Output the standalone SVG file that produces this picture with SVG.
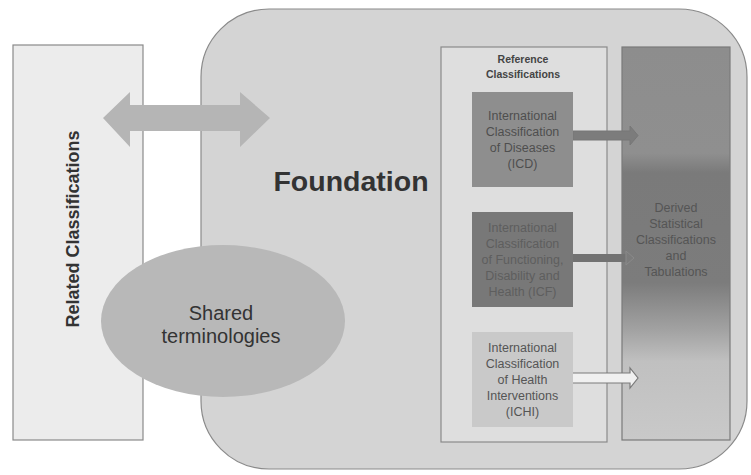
<svg xmlns="http://www.w3.org/2000/svg" width="751" height="475" viewBox="0 0 751 475">
<defs>
<style>
text{font-family:"Liberation Sans",Arial,sans-serif;text-anchor:middle}
.box{font-size:12.5px}
</style>
<linearGradient id="dg" x1="0" y1="0" x2="0" y2="1">
<stop offset="0" stop-color="#8d8d8d"/>
<stop offset="0.27" stop-color="#8f8f8f"/>
<stop offset="0.32" stop-color="#7a7a7a"/>
<stop offset="0.6" stop-color="#7c7c7c"/>
<stop offset="0.72" stop-color="#a2a2a2"/>
<stop offset="0.8" stop-color="#c0c0c0"/>
<stop offset="1" stop-color="#c9c9c9"/>
</linearGradient>
</defs>
<rect width="751" height="475" fill="#ffffff"/>
<g id="foundation">
<rect x="201" y="9" width="546" height="460" rx="68" ry="68" fill="#d4d4d4" stroke="#8a8a8a" stroke-width="1.2"/>
<text x="351" y="191" font-size="28.5" font-weight="bold" fill="#333">Foundation</text>
</g>
<g id="related">
<rect x="13" y="45" width="130" height="395" fill="#ececec" stroke="#8a8a8a" stroke-width="1.2"/>
<text transform="translate(79,229) rotate(-90)" font-size="18" font-weight="bold" fill="#333">Related Classifications</text>
</g>
<g id="connectors">
<polygon points="103,118 130,92 130,105 240,105 240,92 270,118 240,147 240,131 130,131 130,147" fill="#b5b5b5"/>
</g>
<g id="shared">
<ellipse cx="223" cy="321" rx="122" ry="76" fill="#b8b8b8"/>
<text x="221" y="320" font-size="20" fill="#333">Shared</text>
<text x="221" y="343" font-size="20" fill="#333">terminologies</text>
</g>
<g id="reference">
<rect x="441" y="47" width="166" height="395" fill="#dedede" stroke="#8a8a8a" stroke-width="1.2"/>
<text x="523" y="63" font-size="10.5" font-weight="bold" fill="#444">Reference</text>
<text x="523" y="78" font-size="10.5" font-weight="bold" fill="#444">Classifications</text>
</g>
<g id="derived">
<rect x="622" y="47" width="108" height="393" fill="url(#dg)" stroke="#7a7a7a" stroke-width="1.2"/>
<g class="box" fill="#555">
<text x="676" y="212">Derived</text>
<text x="676" y="228">Statistical</text>
<text x="676" y="244">Classifications</text>
<text x="676" y="260">and</text>
<text x="676" y="276">Tabulations</text>
</g>
</g>
<g id="connectors2">
<path d="M573,131 H630 V126 L638,135.5 L630,145 V140 H573 Z" fill="#7c7c7c" stroke="#777" stroke-width="1"/>
<path d="M573,254 H626 V262 H573 Z" fill="#727272"/>
<path d="M626,251 L634,258 L626,265 Z" fill="none" stroke="#8a8a8a" stroke-width="1"/>
<path d="M573,373 H630 V368 L638,378 L630,388 V383 H573" fill="#f0f0f0" stroke="#7a7a7a" stroke-width="1.2"/>
</g>
<g id="icd">
<rect x="472" y="92" width="101" height="95" fill="#8e8e8e"/>
<g class="box" fill="#4e4e4e">
<text x="522.5" y="120">International</text>
<text x="522.5" y="136">Classification</text>
<text x="522.5" y="152">of Diseases</text>
<text x="522.5" y="168">(ICD)</text>
</g>
</g>
<g id="icf">
<rect x="472" y="212" width="101" height="95" fill="#787878"/>
<g class="box" fill="#5e5e5e">
<text x="522.5" y="232">International</text>
<text x="522.5" y="248">Classification</text>
<text x="522.5" y="264">of Functioning,</text>
<text x="522.5" y="280">Disability and</text>
<text x="522.5" y="296">Health (ICF)</text>
</g>
</g>
<g id="ichi">
<rect x="472" y="332" width="101" height="95" fill="#c9c9c9"/>
<g class="box" fill="#555">
<text x="522.5" y="352">International</text>
<text x="522.5" y="368">Classification</text>
<text x="522.5" y="384">of Health</text>
<text x="522.5" y="400">Interventions</text>
<text x="522.5" y="416">(ICHI)</text>
</g>
</g>
</svg>
